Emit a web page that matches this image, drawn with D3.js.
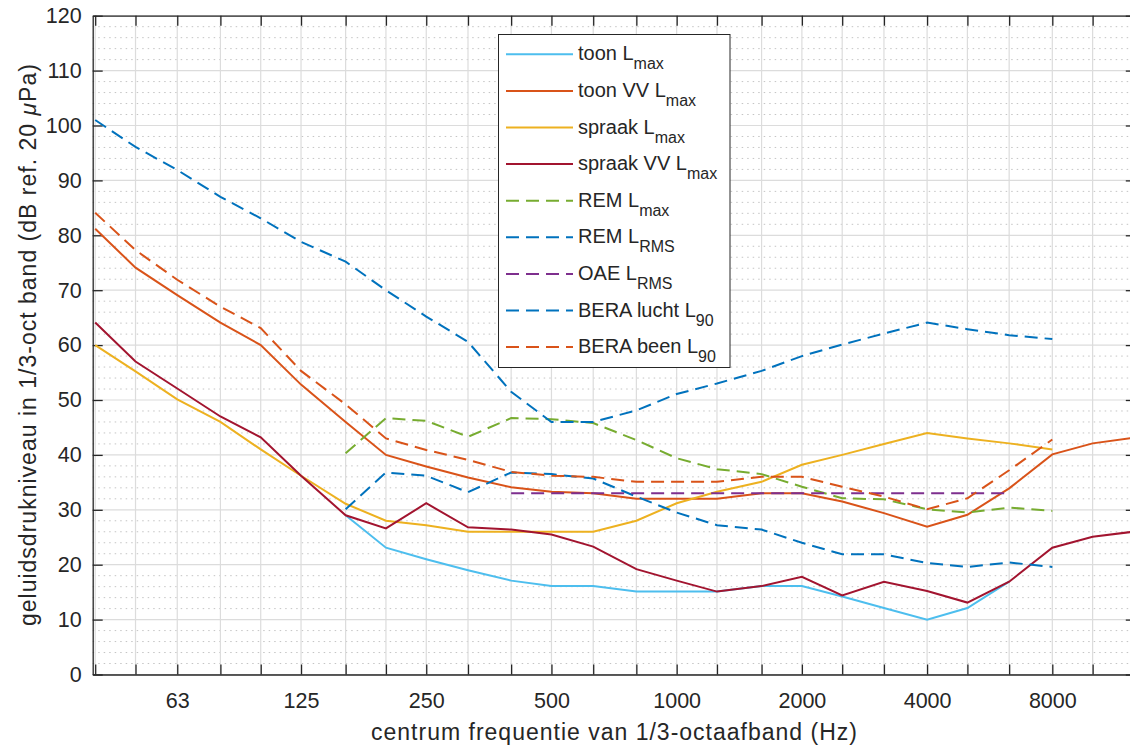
<html>
<head>
<meta charset="utf-8">
<title>Geluidsdrukniveau per 1/3-octaafband</title>
<style>
  body { margin: 0; background: white; }
  text { font-family: "Liberation Sans", Arial, Helvetica, sans-serif; fill: #262626; }
</style>
</head>
<body>
<svg id="chart" width="1130" height="748"></svg>
<script src="https://cdnjs.cloudflare.com/ajax/libs/d3/7.8.5/d3.min.js"></script>
<script>
// centre frequencies of the 1/3-octave bands (Hz)
var freqs = [40, 50, 63, 80, 100, 125, 160, 200, 250, 315, 400, 500, 630, 800,
             1000, 1250, 1600, 2000, 2500, 3150, 4000, 5000, 6300, 8000, 10000, 12500];
var octaveLabels = [63, 125, 250, 500, 1000, 2000, 4000, 8000];
var yTicks = [0, 10, 20, 30, 40, 50, 60, 70, 80, 90, 100, 110, 120];

// levels in dB, one value per band (null = not measured)
var toonLmax = [null, null, null, null, null, null, 29.0, 23.1, 21.0, 19.0, 17.1, 16.1, 16.1, 15.1,
                15.1, 15.1, 16.1, 16.1, 14.2, 12.1, 10.0, 12.1, 16.9, null, null, null];
var toonVVLmax = [81.2, 74.1, 69.1, 64.1, 60.0, 52.8, 46.0, 40.0, 37.9, 35.9, 34.1, 33.3, 33.0, 32.0,
                  32.0, 32.0, 33.0, 33.0, 31.5, 29.4, 26.9, 29.1, 33.9, 40.1, 42.1, 43.1];
var spraakLmax = [60.0, 55.2, 50.1, 46.0, 41.0, 36.2, 31.1, 28.0, 27.2, 26.0, 26.0, 26.0, 26.0, 28.0,
                  31.2, 33.3, 35.1, 38.2, 40.0, 42.0, 44.0, 43.0, 42.1, 41.0, null, null];
var spraakVVLmax = [64.1, 57.0, 52.1, 47.0, 43.2, 36.2, 29.0, 26.6, 31.2, 26.8, 26.4, 25.5, 23.3, 19.2,
                    17.1, 15.1, 16.1, 17.8, 14.4, 16.9, 15.2, 13.1, 16.9, 23.1, 25.1, 26.0];
var remLmax = [null, null, null, null, null, null, 40.3, 46.7, 46.2, 43.3, 46.7, 46.5, 45.8, 42.7,
               39.4, 37.4, 36.5, 34.2, 32.1, 31.9, 30.1, 29.5, 30.4, 29.8, null, null];
var remLrms = [null, null, null, null, null, null, 30.1, 36.8, 36.2, 33.2, 36.8, 36.5, 35.7, 32.4,
               29.5, 27.2, 26.4, 24.0, 21.9, 21.9, 20.3, 19.6, 20.4, 19.6, null, null];
var oaeLrms = [null, null, null, null, null, null, null, null, null, null, 33.0, 33.0, 33.0, 33.0,
               33.0, 33.0, 33.0, 33.0, 33.0, 33.0, 33.0, 33.0, 33.0, null, null, null];
var beraLucht = [101.0, 96.1, 91.9, 87.0, 83.1, 78.8, 75.2, 70.0, 65.2, 60.6, 51.5, 46.0, 46.0, 48.1,
                 51.1, 53.0, 55.3, 58.0, 60.1, 62.1, 64.1, 62.9, 61.8, 61.1, null, null];
var beraBeen = [84.1, 77.3, 71.9, 67.0, 63.1, 55.3, 49.2, 43.0, 40.9, 39.1, 36.9, 36.2, 36.0, 35.1,
                35.1, 35.1, 36.0, 36.0, 34.2, 32.4, 30.1, 32.1, 37.2, 42.8, null, null];

var series = [
  {name: "toon L", sub: "max", values: toonLmax, color: "#4DBEEE", dash: null},
  {name: "toon VV L", sub: "max", values: toonVVLmax, color: "#D95319", dash: null},
  {name: "spraak L", sub: "max", values: spraakLmax, color: "#EDB120", dash: null},
  {name: "spraak VV L", sub: "max", values: spraakVVLmax, color: "#A2142F", dash: null},
  {name: "REM L", sub: "max", values: remLmax, color: "#77AC30", dash: "13,7"},
  {name: "REM L", sub: "RMS", values: remLrms, color: "#0072BD", dash: "13,7"},
  {name: "OAE L", sub: "RMS", values: oaeLrms, color: "#7E2F8E", dash: "13,7"},
  {name: "BERA lucht L", sub: "90", values: beraLucht, color: "#0072BD", dash: "13,7"},
  {name: "BERA been L", sub: "90", values: beraBeen, color: "#D95319", dash: "13,7"}
];

var svg = d3.select("#chart");
var mLeft = 92.7, mRight = 1135.8, mTop = 15.7, mBottom = 674.5;

var x = d3.scaleLog().domain([39.45, 12700]).range([mLeft, mRight]);
var y = d3.scaleLinear().domain([0, 120]).range([mBottom, mTop]);

var grid = svg.append("g");
// minor horizontal grid every 2 dB
d3.range(0, 121, 2).filter(function (v) { return v % 10 != 0; }).forEach(function (v) {
  grid.append("line").attr("x1", mLeft).attr("x2", mRight).attr("y1", y(v)).attr("y2", y(v))
    .attr("stroke", "#c4c4c4").attr("stroke-width", 1).attr("stroke-dasharray", "1.5,4");
});
// major grid
yTicks.forEach(function (v) {
  grid.append("line").attr("x1", mLeft).attr("x2", mRight).attr("y1", y(v)).attr("y2", y(v))
    .attr("stroke", "#dcdcdc").attr("stroke-width", 1.2);
});
freqs.forEach(function (f) {
  grid.append("line").attr("x1", x(f)).attr("x2", x(f)).attr("y1", mTop).attr("y2", mBottom)
    .attr("stroke", "#dcdcdc").attr("stroke-width", 1.2);
});

// axes (box with inward ticks)
var axisCol = "#262626";
var xBottom = d3.axisBottom(x).tickValues(freqs).tickSizeInner(-10).tickSizeOuter(0)
  .tickFormat(function (f) { return octaveLabels.indexOf(f) >= 0 ? f : ""; }).tickPadding(18);
var xTop = d3.axisTop(x).tickValues(freqs).tickSizeInner(-10).tickSizeOuter(0).tickFormat("");
var yLeft = d3.axisLeft(y).tickValues(yTicks).tickSizeInner(-10).tickSizeOuter(0).tickPadding(11);
var yRight = d3.axisRight(y).tickValues(yTicks).tickSizeInner(-10).tickSizeOuter(0).tickFormat("");

function styleAxis(g) {
  g.selectAll("path").attr("stroke", axisCol).attr("stroke-width", 1.3);
  g.selectAll("line").attr("stroke", axisCol).attr("stroke-width", 1.3);
  g.selectAll("text").attr("fill", axisCol).style("font-size", "21.5px")
    .style("font-family", "'Liberation Sans', Arial, sans-serif");
}
svg.append("g").attr("transform", "translate(0," + mBottom + ")").call(xBottom).call(styleAxis);
svg.append("g").attr("transform", "translate(0," + mTop + ")").call(xTop).call(styleAxis);
svg.append("g").attr("transform", "translate(" + mLeft + ",0)").call(yLeft).call(styleAxis);
svg.append("g").attr("transform", "translate(" + mRight + ",0)").call(yRight).call(styleAxis);

// data lines
var line = d3.line()
  .defined(function (d) { return d.v != null; })
  .x(function (d) { return x(d.f); })
  .y(function (d) { return y(d.v); });

series.forEach(function (s) {
  var pts = freqs.map(function (f, i) { return {f: f, v: s.values[i]}; });
  svg.append("path").datum(pts).attr("d", line)
    .attr("fill", "none").attr("stroke", s.color).attr("stroke-width", 2)
    .attr("stroke-dasharray", s.dash);
});

// axis titles (reference font runs wider, so stretch to its measured length)
svg.append("text").attr("x", 614).attr("y", 740).attr("text-anchor", "middle")
  .attr("textLength", 486).attr("lengthAdjust", "spacing")
  .style("font-size", "23px").text("centrum frequentie van 1/3-octaafband (Hz)");
var yl = svg.append("text").attr("transform", "translate(36," + (mTop + mBottom) / 2 + ") rotate(-90)")
  .attr("text-anchor", "middle").attr("textLength", 562).attr("lengthAdjust", "spacing")
  .style("font-size", "23px");
yl.append("tspan").text("geluidsdrukniveau in 1/3-oct band (dB ref. 20 ");
yl.append("tspan").style("font-style", "italic").text("\u03BC");
yl.append("tspan").text("Pa)");

// legend
var legend = svg.append("g");
legend.append("rect").attr("x", 498.5).attr("y", 34.5).attr("width", 231.5).attr("height", 333)
  .attr("fill", "white").attr("stroke", axisCol).attr("stroke-width", 1);
series.forEach(function (s, i) {
  var ly = 54.3 + i * 36.6;
  legend.append("line").attr("x1", 506).attr("x2", 573).attr("y1", ly).attr("y2", ly)
    .attr("stroke", s.color).attr("stroke-width", 2).attr("stroke-dasharray", s.dash);
  var t = legend.append("text").attr("x", 578).attr("y", ly + 6).style("font-size", "20px");
  t.append("tspan").text(s.name);
  t.append("tspan").attr("dy", 9).style("font-size", "16px").text(s.sub);
});
</script>
</body>
</html>
